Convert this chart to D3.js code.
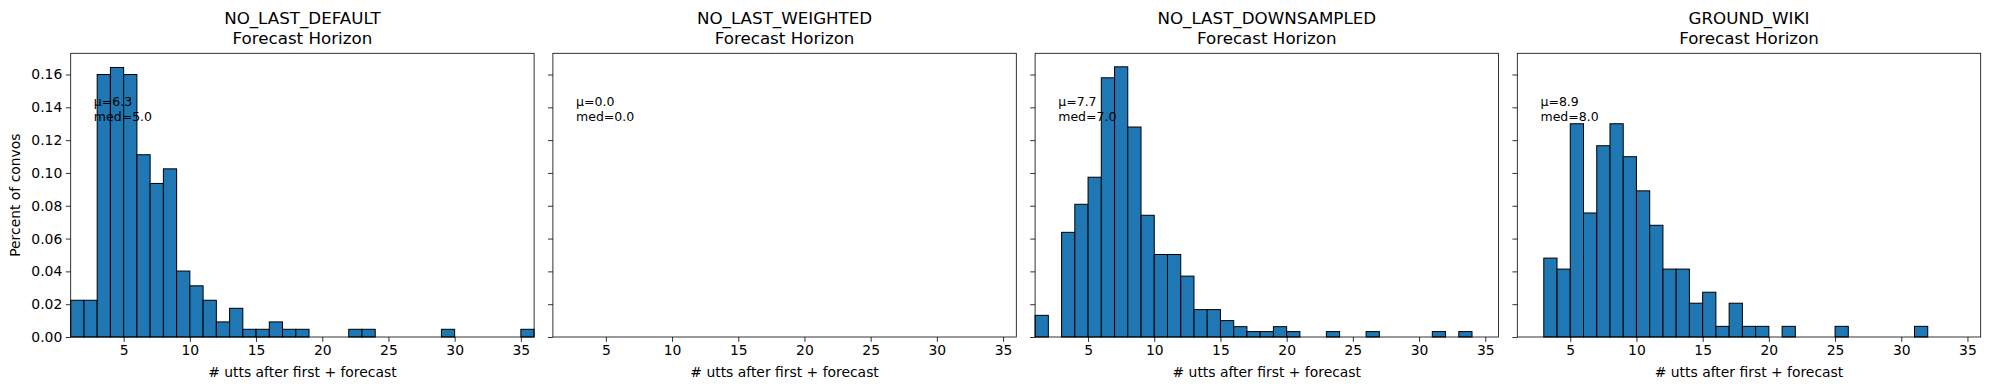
<!DOCTYPE html>
<html>
<head>
<meta charset="utf-8">
<script src="https://cdn.jsdelivr.net/npm/d3@7"></script>
<style>
  body { margin: 0; background: #fff; }
  svg text { font-family: "DejaVu Sans", sans-serif; fill: #000; }
</style>
</head>
<body>
<div id="chart"></div>
<script>
// datos
const binStarts = [1, 2, 3, 4, 5, 6, 7, 8, 9, 10, 11, 12, 13, 14, 15, 16, 17, 18, 19, 20,
                   21, 22, 23, 24, 25, 26, 27, 28, 29, 30, 31, 32, 33, 34, 35]
const panelNames = ["NO_LAST_DEFAULT", "NO_LAST_WEIGHTED", "NO_LAST_DOWNSAMPLED", "GROUND_WIKI"]
const noLastDefault = [0.0224, 0.0224, 0.1600, 0.1643, 0.1600, 0.1111, 0.0936, 0.1025, 0.0402, 0.0312,
                       0.0224, 0.0092, 0.0175, 0.0047, 0.0047, 0.0092, 0.0047, 0.0047, 0, 0,
                       0, 0.0047, 0.0047, 0, 0, 0, 0, 0, 0.0047, 0,
                       0, 0, 0, 0, 0.0047]
const noLastWeighted = [0, 0, 0, 0, 0, 0, 0, 0, 0, 0,
                        0, 0, 0, 0, 0, 0, 0, 0, 0, 0,
                        0, 0, 0, 0, 0, 0, 0, 0, 0, 0,
                        0, 0, 0, 0, 0]
const noLastDownsampled = [0.0132, 0, 0.0638, 0.0809, 0.0974, 0.1580, 0.1647, 0.1280, 0.0742, 0.0503,
                           0.0503, 0.0371, 0.0167, 0.0167, 0.0100, 0.0063, 0.0033, 0.0033, 0.0063, 0.0033,
                           0, 0, 0.0033, 0, 0, 0.0033, 0, 0, 0, 0,
                           0.0033, 0, 0.0033, 0, 0]
const groundWiki = [0, 0, 0.0481, 0.0414, 0.1300, 0.0756, 0.1166, 0.1300, 0.1099, 0.0891,
                    0.0681, 0.0414, 0.0414, 0.0206, 0.0273, 0.0065, 0.0206, 0.0065, 0.0065, 0,
                    0.0065, 0, 0, 0, 0.0065, 0, 0, 0, 0, 0,
                    0.0065, 0, 0, 0, 0]
const means = ["6.3", "0.0", "7.7", "8.9"]
const medians = ["5.0", "0.0", "7.0", "8.0"]
const xTicks = [5, 10, 15, 20, 25, 30, 35]
const yTicks = [0, 0.02, 0.04, 0.06, 0.08, 0.10, 0.12, 0.14, 0.16]

const series = [noLastDefault, noLastWeighted, noLastDownsampled, groundWiki]

// constantes
const width = 1989
const height = 390
const margin = { top: 53.3, right: 8.3, bottom: 53, left: 70.7 }
const gap = 18.8
const panelW = (width - margin.left - margin.right - 3 * gap) / 4
const panelH = height - margin.top - margin.bottom

const svg = d3.select("#chart").append("svg").attr("width", width).attr("height", height)

// escalas (compartidas)
const x = d3.scaleLinear().domain([1, 36]).range([0, panelW])
const yMax = d3.max(series.flat()) * 1.05
const y = d3.scaleLinear().domain([0, yMax]).range([panelH, 0])

series.forEach((vals, i) => {
    const g = svg.append("g").attr("transform", `translate(${margin.left + i * (panelW + gap)},${margin.top})`)

    const data = binStarts.map((b, j) => ({ x0: b, x1: b + 1, v: vals[j] })).filter(d => d.v > 0)

    g.selectAll(".bar").data(data).enter().append("rect")
        .attr("class", "bar")
        .attr("x", d => x(d.x0))
        .attr("width", d => x(d.x1) - x(d.x0))
        .attr("y", d => y(d.v))
        .attr("height", d => y(0) - y(d.v))
        .attr("fill", "#1f77b4")
        .attr("stroke", "#000")
        .attr("stroke-width", 1)

    // ejes
    const xAxis = d3.axisBottom(x).tickValues(xTicks).tickSize(4.9).tickPadding(3.5).tickFormat(d3.format("d"))
    const xg = g.append("g").attr("transform", `translate(0,${panelH})`).call(xAxis)
    const yAxis = d3.axisLeft(y).tickValues(yTicks).tickSize(4.9).tickPadding(3.5)
        .tickFormat(i === 0 ? d3.format(".2f") : "")
    const yg = g.append("g").call(yAxis)
    ;[xg, yg].forEach(a => {
        a.select(".domain").remove()
        a.selectAll(".tick line").attr("stroke", "#000").attr("stroke-width", 0.8)
        a.selectAll(".tick text").attr("font-size", 13.9).attr("font-family", "DejaVu Sans")
    })

    // marco
    g.append("rect").attr("width", panelW).attr("height", panelH)
        .attr("fill", "none").attr("stroke", "#000").attr("stroke-width", 0.8)

    // titulo
    g.append("text").attr("x", panelW / 2).attr("y", 24 - margin.top)
        .attr("text-anchor", "middle").attr("font-size", 16.7).text(panelNames[i])
    g.append("text").attr("x", panelW / 2).attr("y", 44.3 - margin.top)
        .attr("text-anchor", "middle").attr("font-size", 16.7).text("Forecast Horizon")

    // etiqueta x
    g.append("text").attr("x", panelW / 2).attr("y", panelH + 40)
        .attr("text-anchor", "middle").attr("font-size", 13.9).text("# utts after first + forecast")

    // media y mediana
    const tx = panelW * 0.05
    const ty = panelH * 0.2
    g.append("text").attr("x", tx).attr("y", ty - 4).attr("font-size", 12.5).text("\u03bc=" + means[i])
    g.append("text").attr("x", tx).attr("y", ty + 11).attr("font-size", 12.5).text("med=" + medians[i])
})

svg.append("text")
    .attr("transform", `translate(20,${margin.top + panelH / 2}) rotate(-90)`)
    .attr("text-anchor", "middle").attr("font-size", 13.9).text("Percent of convos")
</script>
</body>
</html>
